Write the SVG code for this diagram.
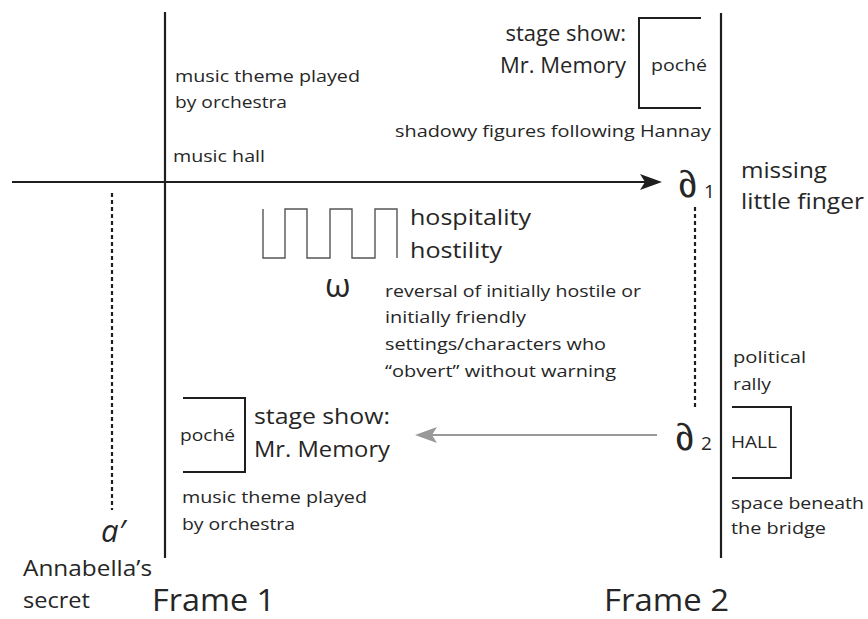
<svg xmlns="http://www.w3.org/2000/svg" width="868" height="619" viewBox="0 0 868 619">
<style>
text{font-family:"Open Sans","Noto Sans","Liberation Sans",sans-serif;fill:#262626}
.s{font-size:17px}
.m{font-size:22px}
.f{font-size:31px}
.sym{font-family:"Noto Sans","Liberation Sans",sans-serif;font-size:38px}
.sub{font-size:19px}
.ln{stroke:#1e1e1e;stroke-width:2.2;fill:none}
.br{stroke:#1e1e1e;stroke-width:2;fill:none}
.dot{stroke:#1e1e1e;stroke-width:2.2;stroke-dasharray:4 3;fill:none}
</style>
<rect width="868" height="619" fill="#fff"/>
<g id="connectors">
<line class="ln" x1="165" y1="12" x2="165" y2="558"/>
<line class="ln" x1="721" y1="13" x2="721" y2="558"/>
<line class="ln" x1="12" y1="182" x2="648" y2="182"/>
<path d="M662,182 L640,174 L645,182 L640,190 Z" fill="#1e1e1e"/>
<line class="dot" x1="112" y1="193" x2="112" y2="510"/>
<line class="dot" x1="695" y1="207" x2="695" y2="407"/>
<line x1="657" y1="435" x2="428" y2="435" stroke="#999" stroke-width="2"/>
<path d="M415,435 L437,427 L432,435 L437,443 Z" fill="#999"/>
</g>
<g id="frame1-axis">
<text class="f" x="152" y="611" textLength="123" lengthAdjust="spacingAndGlyphs">Frame 1</text>
</g>
<g id="frame2-axis">
<text class="f" x="604" y="611" textLength="125" lengthAdjust="spacingAndGlyphs">Frame 2</text>
</g>
<g id="music-top">
<text class="s" x="175" y="82" textLength="185" lengthAdjust="spacingAndGlyphs">music theme played</text>
<text class="s" x="175" y="108" textLength="112" lengthAdjust="spacingAndGlyphs">by orchestra</text>
<text class="s" x="173" y="162" textLength="92" lengthAdjust="spacingAndGlyphs">music hall</text>
</g>
<g id="stage-top">
<text class="m" x="626" y="41" text-anchor="end">stage show:</text>
<text class="m" x="626" y="73" text-anchor="end">Mr. Memory</text>
<path class="br" d="M701,18 H639 V108 H701"/>
<text class="s" x="651" y="71" textLength="56" lengthAdjust="spacingAndGlyphs">poché</text>
<text class="s" x="395" y="137" textLength="316" lengthAdjust="spacingAndGlyphs">shadowy figures following Hannay</text>
</g>
<g id="d1">
<text class="sym" transform="translate(681,197) skewX(14)" x="0" y="0">∂</text>
<text class="sub" x="704" y="198">1</text>
</g>
<g id="missing">
<text class="m" x="741" y="178" textLength="86" lengthAdjust="spacingAndGlyphs">missing</text>
<text class="m" x="741" y="209" textLength="123" lengthAdjust="spacingAndGlyphs">little finger</text>
</g>
<g id="omega">
<path d="M263,209 V258 H285 V209 H307 V258 H330 V209 H352 V258 H375 V209 H397 V258" fill="none" stroke="#555" stroke-width="1.4"/>
<text class="m" x="410" y="225" textLength="121" lengthAdjust="spacingAndGlyphs">hospitality</text>
<text class="m" x="410" y="258" textLength="92" lengthAdjust="spacingAndGlyphs">hostility</text>
<text x="325" y="297" style="font-size:33px">ω</text>
<text class="s" x="385" y="297" textLength="256" lengthAdjust="spacingAndGlyphs">reversal of initially hostile or</text>
<text class="s" x="385" y="323" textLength="141" lengthAdjust="spacingAndGlyphs">initially friendly</text>
<text class="s" x="385" y="350" textLength="221" lengthAdjust="spacingAndGlyphs">settings/characters who</text>
<text class="s" x="385" y="377" textLength="231" lengthAdjust="spacingAndGlyphs">“obvert” without warning</text>
</g>
<g id="d2">
<text class="sym" transform="translate(678,450) skewX(14)" x="0" y="0">∂</text>
<text class="sub" x="701" y="450">2</text>
</g>
<g id="hall">
<text class="s" x="733" y="363" textLength="73" lengthAdjust="spacingAndGlyphs">political</text>
<text class="s" x="733" y="390" textLength="38" lengthAdjust="spacingAndGlyphs">rally</text>
<path class="br" d="M732,407 H791 V478 H732"/>
<text class="s" x="731" y="448" textLength="46" lengthAdjust="spacingAndGlyphs">HALL</text>
<text class="s" x="731" y="509" textLength="133" lengthAdjust="spacingAndGlyphs">space beneath</text>
<text class="s" x="731" y="534" textLength="95" lengthAdjust="spacingAndGlyphs">the bridge</text>
</g>
<g id="stage-bottom">
<path class="br" d="M183,398 H245 V472 H183"/>
<text class="s" x="180" y="441" textLength="55" lengthAdjust="spacingAndGlyphs">poché</text>
<text class="m" x="254" y="424" textLength="136" lengthAdjust="spacingAndGlyphs">stage show:</text>
<text class="m" x="254" y="457" textLength="136" lengthAdjust="spacingAndGlyphs">Mr. Memory</text>
<text class="s" x="182" y="503" textLength="185" lengthAdjust="spacingAndGlyphs">music theme played</text>
<text class="s" x="182" y="530" textLength="113" lengthAdjust="spacingAndGlyphs">by orchestra</text>
</g>
<g id="a-prime">
<text x="101" y="542" style="font-size:31px;font-style:italic">a′</text>
<text class="m" x="23" y="576" textLength="129" lengthAdjust="spacingAndGlyphs">Annabella’s</text>
<text class="m" x="23" y="608" textLength="67" lengthAdjust="spacingAndGlyphs">secret</text>
</g>
</svg>
